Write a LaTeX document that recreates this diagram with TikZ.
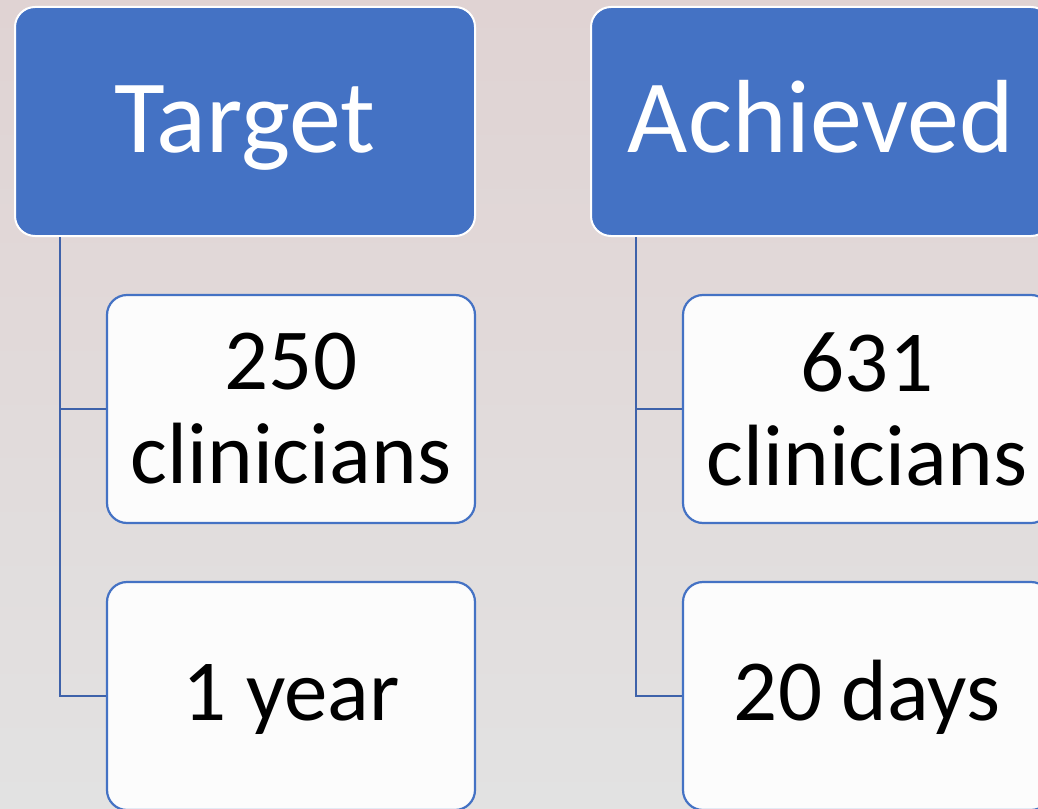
\documentclass[tikz,border=0pt]{standalone}
\usepackage{fontspec}
\setmainfont{Carlito}
\usepackage{tikz}
\usetikzlibrary{calc}
\definecolor{hdblue}{RGB}{68,114,196}
\definecolor{lnblue}{RGB}{62,98,170}
\definecolor{leafwhite}{RGB}{252,252,252}
\tikzset{
	% Two box styles for the hierarchy: header and leaf
	head node/.style={rectangle,rounded corners=20pt,draw=white,line width=2pt,fill=hdblue,text=white,
		minimum width=460pt,minimum height=229pt,inner sep=0pt,text height=80pt,text depth=19pt,
		font=\fontsize{104}{110}\selectfont},
	leaf node/.style={rectangle,rounded corners=20pt,draw=hdblue,line width=2.2pt,fill=leafwhite,
		minimum width=368pt,minimum height=228pt,inner sep=0pt,align=center,font=\fontsize{87}{94}\selectfont},
	one line/.style={text height=70pt,text depth=22pt},
	conn/.style={draw=lnblue,line width=2pt}
}

\begin{document}
\begin{tikzpicture}[x=1pt,y=-1pt]
			% page size and background
			\useasboundingbox (0,0) rectangle (1038,808);
			\clip (0,0) rectangle (1038,808);
			\fill[top color={rgb,255:red,224;green,211;blue,211},bottom color={rgb,255:red,226;green,226;blue,226}]
				(0,0) rectangle (1038,808);
			
			% macro for the trunk line from a header down to a leaf
			\newcommand{\trunk}[2]{\draw[conn]($(#1.south west)+(46,0)$) |- (#2.west);}
			
			\node(T)[head node] at (245,121.5){Target};
			\node(T-1)[leaf node] at (291,409){250\\clinicians};
			\node(T-2)[leaf node,one line] at (291,696){1 year};
			
			\node(A)[head node] at (821,121.5){Achieved};
			\node(A-1)[leaf node] at (867,409){631\\clinicians};
			\node(A-2)[leaf node,one line] at (867,696){20 days};
			
			\trunk{T}{T-2}
			\trunk{T}{T-1}
			\trunk{A}{A-2}
			\trunk{A}{A-1}
		\end{tikzpicture}
\end{document}
